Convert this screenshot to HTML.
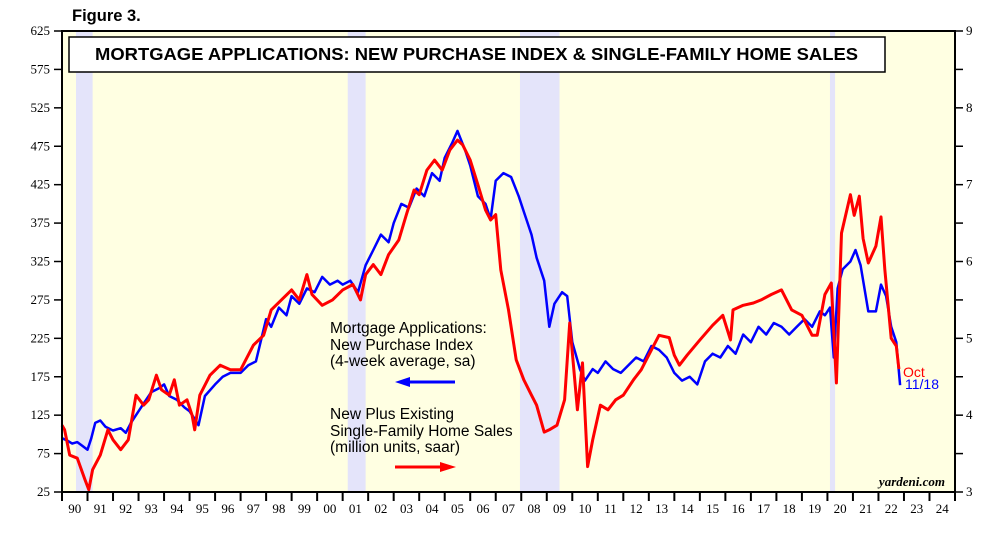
<!DOCTYPE html>
<html><head><meta charset="utf-8"><style>
body{margin:0;background:#fff;width:1002px;height:530px;overflow:hidden;font-family:"Liberation Sans",sans-serif}
</style></head><body>
<svg id="chart" width="1002" height="530" xmlns="http://www.w3.org/2000/svg">
<text x="72" y="21" font-family="Liberation Sans" font-weight="bold" font-size="16.5">Figure 3.</text>
<rect x="62" y="31" width="893" height="461" fill="#ffffe2"/>
<g id="rec"></g>
<g id="series"></g>
<rect x="62" y="31" width="893" height="461" fill="none" stroke="#000" stroke-width="2"/>
<rect x="69" y="37" width="816" height="35" fill="#fff" stroke="#000" stroke-width="1.5"/>
<text x="95" y="60" textLength="763" lengthAdjust="spacingAndGlyphs" font-family="Liberation Sans" font-weight="bold" font-size="17.5">MORTGAGE APPLICATIONS: NEW PURCHASE INDEX &amp; SINGLE-FAMILY HOME SALES</text>
<g font-family="Liberation Sans" font-size="15.5">
<text x="330" y="333">Mortgage Applications:</text>
<text x="330" y="350">New Purchase Index</text>
<text x="330" y="366">(4-week average, sa)</text>
<line x1="405" y1="382" x2="455" y2="382" stroke="#00f" stroke-width="3"/>
<polygon points="395,382 410,377 410,387" fill="#00f"/>
</g>
<g font-family="Liberation Sans" font-size="15.5">
<text x="330" y="419">New Plus Existing</text>
<text x="330" y="436">Single-Family Home Sales</text>
<text x="330" y="452">(million units, saar)</text>
<line x1="395" y1="467" x2="445" y2="467" stroke="#f00" stroke-width="3"/>
<polygon points="456,467 440,462 440,472" fill="#f00"/>
</g>
<text x="903" y="377" fill="#f00" font-family="Liberation Sans" font-size="14">Oct</text>
<text x="905" y="389" fill="#00f" font-family="Liberation Sans" font-size="14">11/18</text>
<text x="945" y="486" text-anchor="end" font-family="Liberation Serif" font-weight="bold" font-style="italic" font-size="13">yardeni.com</text>
<g id="axes"></g>
</svg>
<script>
const leftTicks=[25,75,125,175,225,275,325,375,425,475,525,575,625];
const rightTicks=[3,4,5,6,7,8,9];
const yearLabels=["90","91","92","93","94","95","96","97","98","99","00","01","02","03","04","05","06","07","08","09","10","11","12","13","14","15","16","17","18","19","20","21","22","23","24"];
const recessions=[[1990.55,1991.2],[2001.2,2001.9],[2007.95,2009.5],[2020.1,2020.3]];
const blueYears=[1990.0,1990.2,1990.4,1990.6,1990.8,1991.0,1991.15,1991.3,1991.5,1991.7,1992.0,1992.3,1992.5,1992.7,1993.0,1993.2,1993.5,1993.8,1994.0,1994.2,1994.5,1994.8,1995.0,1995.2,1995.35,1995.6,1996.0,1996.3,1996.6,1997.0,1997.3,1997.6,1998.0,1998.2,1998.5,1998.8,1999.0,1999.3,1999.6,1999.9,2000.2,2000.5,2000.8,2001.0,2001.3,2001.6,2001.9,2002.2,2002.5,2002.8,2003.0,2003.3,2003.6,2003.9,2004.2,2004.5,2004.8,2005.0,2005.3,2005.5,2005.8,2006.0,2006.3,2006.6,2006.8,2007.0,2007.3,2007.6,2007.9,2008.1,2008.4,2008.6,2008.9,2009.1,2009.3,2009.6,2009.8,2010.0,2010.3,2010.5,2010.8,2011.0,2011.3,2011.6,2011.9,2012.2,2012.5,2012.8,2013.1,2013.4,2013.7,2014.0,2014.3,2014.6,2014.9,2015.2,2015.5,2015.8,2016.1,2016.4,2016.7,2017.0,2017.3,2017.6,2017.9,2018.2,2018.5,2018.8,2019.1,2019.4,2019.7,2019.9,2020.1,2020.25,2020.4,2020.6,2020.9,2021.1,2021.3,2021.6,2021.9,2022.1,2022.3,2022.5,2022.7,2022.85];
const blueValues=[95,92,88,90,85,80,95,115,118,110,105,108,102,115,130,140,155,160,165,150,145,135,130,120,112,150,165,175,180,180,190,195,250,240,265,255,280,270,290,285,305,295,300,295,300,285,320,340,360,350,375,400,395,420,410,440,430,460,480,495,470,450,410,400,380,430,440,435,410,390,360,330,300,240,270,285,280,220,185,170,185,180,195,185,180,190,200,195,215,210,200,180,170,175,165,195,205,200,215,205,230,220,240,230,245,240,230,240,250,240,260,255,265,200,290,315,325,340,320,260,260,295,280,240,220,164];
const redYears=[1990.0,1990.1,1990.3,1990.6,1990.9,1991.05,1991.2,1991.5,1991.8,1992.0,1992.3,1992.6,1992.9,1993.2,1993.4,1993.7,1993.9,1994.2,1994.4,1994.6,1994.9,1995.1,1995.2,1995.4,1995.8,1996.2,1996.6,1997.0,1997.5,1997.9,1998.2,1998.6,1999.0,1999.3,1999.6,1999.8,2000.2,2000.6,2001.0,2001.4,2001.7,2001.9,2002.2,2002.5,2002.8,2003.2,2003.5,2003.8,2004.0,2004.3,2004.6,2004.9,2005.2,2005.5,2005.7,2006.0,2006.3,2006.6,2006.8,2007.0,2007.2,2007.5,2007.8,2008.1,2008.4,2008.6,2008.9,2009.1,2009.4,2009.7,2009.9,2010.2,2010.4,2010.6,2010.8,2011.1,2011.4,2011.7,2012.0,2012.4,2012.7,2013.1,2013.4,2013.8,2014.0,2014.2,2014.5,2015.0,2015.5,2015.9,2016.2,2016.3,2016.7,2017.1,2017.4,2017.8,2018.2,2018.6,2019.0,2019.4,2019.6,2019.9,2020.15,2020.35,2020.55,2020.9,2021.05,2021.25,2021.4,2021.6,2021.9,2022.1,2022.25,2022.5,2022.7,2022.8];
const redValues=[3.87,3.81,3.48,3.44,3.16,3.03,3.29,3.48,3.81,3.68,3.55,3.68,4.26,4.13,4.20,4.52,4.33,4.26,4.46,4.13,4.20,4.00,3.81,4.26,4.52,4.65,4.59,4.59,4.91,5.04,5.37,5.50,5.63,5.50,5.83,5.57,5.43,5.50,5.63,5.70,5.50,5.83,5.96,5.83,6.09,6.28,6.61,6.93,6.87,7.19,7.32,7.19,7.45,7.58,7.52,7.32,7.00,6.67,6.54,6.61,5.89,5.37,4.72,4.46,4.26,4.13,3.78,3.81,3.87,4.20,5.20,4.07,4.68,3.33,3.68,4.13,4.07,4.20,4.26,4.46,4.59,4.85,5.04,5.01,4.78,4.65,4.78,4.98,5.17,5.30,4.98,5.37,5.43,5.46,5.50,5.57,5.63,5.37,5.30,5.04,5.04,5.57,5.72,4.42,6.37,6.87,6.60,6.85,6.30,5.98,6.20,6.58,5.90,5.00,4.90,4.60];

const NS="http://www.w3.org/2000/svg";
const X0=62,X1=955,Y0=31,Y1=492;
const xs=y=>X0+(y-1990)*(X1-X0)/35;
const yl=v=>Y1-(v-25)*(Y1-Y0)/600;
const yr=v=>Y1-(v-3)*(Y1-Y0)/6;
function mk(tag,attrs,parent){const e=document.createElementNS(NS,tag);for(const k in attrs)e.setAttribute(k,attrs[k]);parent.appendChild(e);return e;}
const rec=document.getElementById('rec'),ser=document.getElementById('series'),ax=document.getElementById('axes');
recessions.forEach(r=>{
  const e=mk('rect',{x:xs(r[0]),y:Y0,width:xs(r[1])-xs(r[0]),height:Y1-Y0,fill:'#e4e4fa'},rec);
  
  
});
const bp=blueYears.map((y,i)=>xs(y).toFixed(1)+','+yl(blueValues[i]).toFixed(1)).join(' ');
const rp=redYears.map((y,i)=>xs(y).toFixed(1)+','+yr(redValues[i]).toFixed(1)).join(' ');
const bl=mk('polyline',{points:bp,fill:'none',stroke:'#00f','stroke-width':2.5,'stroke-linejoin':'round'},ser);


const rl=mk('polyline',{points:rp,fill:'none',stroke:'#f00','stroke-width':3,'stroke-linejoin':'round'},ser);


leftTicks.forEach(v=>{
  const y=yl(v);
  mk('line',{x1:54,x2:X0,y1:y,y2:y,stroke:'#000','stroke-width':1.5},ax);
  const t=mk('text',{x:50,y:y+4,'text-anchor':'end','font-family':'Liberation Serif','font-size':13},ax);
  t.textContent=v;
  
  
});
for(let v=3;v<=9;v+=0.5){const y=yr(v);mk('line',{x1:X1,x2:X1+8,y1:y,y2:y,stroke:'#000','stroke-width':1.5},ax);}
rightTicks.forEach(v=>{
  const t=mk('text',{x:966,y:yr(v)+4,'font-family':'Liberation Serif','font-size':13},ax);
  t.textContent=v;
  
  
});
for(let i=0;i<=35;i++){const x=xs(1990+i);mk('line',{x1:x,x2:x,y1:Y1,y2:Y1+9,stroke:'#000','stroke-width':2},ax);}
yearLabels.forEach((l,i)=>{
  const t=mk('text',{x:xs(1990.5+i),y:513,'text-anchor':'middle','font-family':'Liberation Serif','font-size':13},ax);
  t.textContent=l;
  
  
});
</script>
</body></html>
